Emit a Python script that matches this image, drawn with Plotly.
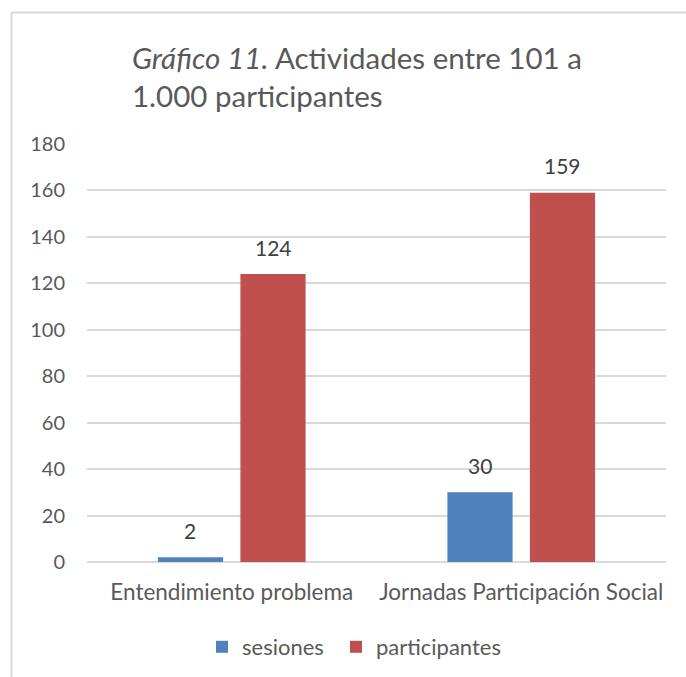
import plotly.graph_objects as go

categories = ["Entendimiento problema", "Jornadas Participación Social"]
sesiones = [2, 30]
participantes = [124, 159]
series_names = ["sesiones", "participantes"]
colors = ["#4F81BD", "#C0504D"]
y_ticks = [0, 20, 40, 60, 80, 100, 120, 140, 160, 180]

W, H = 686, 677
L, R, T, B = 87, 20, 144, 115
FONT = "Lato"
GRAY = "#595959"

legend_ids = ["legend", "legend2"]
fig = go.Figure()
for name, vals, col, lg in zip(series_names, [sesiones, participantes], colors, legend_ids):
    fig.add_trace(go.Bar(
        name=name, x=categories, y=vals, legend=lg,
        marker=dict(color=col, line=dict(width=0)),
    ))

plot_w = W - L - R
group_w = plot_w / len(categories) * (1 - 0.43)
slot = group_w / 2
annotations = []
for i, vals in enumerate([sesiones, participantes]):
    off = (i - 0.5) * slot
    for c, v in zip(categories, vals):
        annotations.append(dict(
            x=c, y=v, xref="x", yref="y", text=str(v), showarrow=False,
            xshift=off, yshift=27, yanchor="middle",
            font=dict(family=FONT, size=21, color="#404040"),
        ))

def px_x(p):
    return (p - L) / plot_w

def px_y(p):
    return (H - B - p) / (H - T - B)

border = "#D9D9D9"
shapes = [
    dict(type="line", xref="paper", yref="paper", x0=px_x(11), x1=px_x(686),
         y0=px_y(12.5), y1=px_y(12.5), line=dict(color=border, width=2)),
    dict(type="line", xref="paper", yref="paper", x0=px_x(11.5), x1=px_x(11.5),
         y0=px_y(12), y1=px_y(677), line=dict(color=border, width=2)),
]

legend_style = dict(
    orientation="h", xanchor="left", y=px_y(647), yanchor="middle",
    bgcolor="rgba(0,0,0,0)",
    font=dict(family=FONT, size=22, color=GRAY),
)

fig.update_layout(
    width=W, height=H,
    margin=dict(l=L, r=R, t=T, b=B, autoexpand=False),
    paper_bgcolor="white", plot_bgcolor="white",
    barmode="group", bargap=0.43, bargroupgap=0.21,
    font=dict(family=FONT, color=GRAY),
    title=dict(
        text="<i>Gráfico 11.</i> Actividades entre 101 a<br>1.000 participantes",
        x=132 / W, xanchor="left", xref="container",
        y=1 - 69 / H, yanchor="top", yref="container",
        font=dict(family=FONT, size=29.5, color=GRAY),
    ),
    xaxis=dict(
        showgrid=False, showline=False, ticks="", ticklabelstandoff=14,
        tickfont=dict(family=FONT, size=22.5, color=GRAY),
    ),
    yaxis=dict(
        range=[0, 180], tickvals=y_ticks, showgrid=True, gridcolor="#D9D9D9",
        gridwidth=1.5, zeroline=True, zerolinecolor="#D9D9D9", zerolinewidth=2,
        showline=False, ticks="", ticklabelstandoff=21,
        tickfont=dict(family=FONT, size=20, color=GRAY),
    ),
    legend=dict(x=px_x(202), **legend_style),
    legend2=dict(x=px_x(336), **legend_style),
    annotations=annotations,
    shapes=shapes,
    showlegend=True,
)

fig.write_html("out.html", config={"displayModeBar": False},
               post_script="document.body.style.margin='0';")
